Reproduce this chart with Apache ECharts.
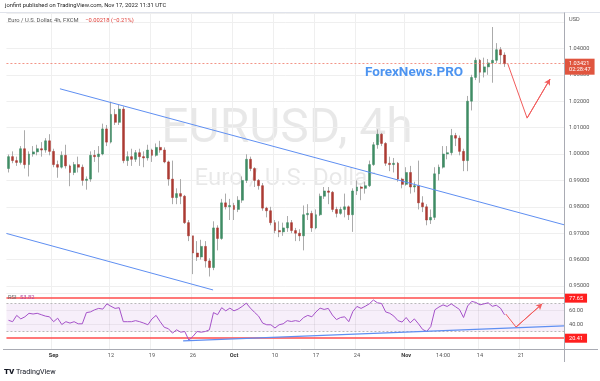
<!DOCTYPE html>
<html><head><meta charset="utf-8">
<script src="https://cdn.jsdelivr.net/npm/echarts@6/dist/echarts.min.js"></script>
<style>html,body{margin:0;padding:0;background:#fff;}#c{width:600px;height:381px;}</style>
</head><body><div id="c"></div>
<script>
// ---------- data ----------
const tradingDays = ['Aug 24','Aug 25','Aug 26','Aug 29','Aug 30','Aug 31',
 'Sep 1','Sep 2','Sep 5','Sep 6','Sep 7','Sep 8','Sep 9','Sep 12','Sep 13','Sep 14','Sep 15','Sep 16','Sep 19','Sep 20','Sep 21','Sep 22','Sep 23','Sep 26','Sep 27','Sep 28','Sep 29','Sep 30',
 'Oct 3','Oct 4','Oct 5','Oct 6','Oct 7','Oct 10','Oct 11','Oct 12','Oct 13','Oct 14','Oct 17','Oct 18','Oct 19','Oct 20','Oct 21','Oct 24','Oct 25','Oct 26','Oct 27','Oct 28','Oct 31',
 'Nov 1','Nov 2','Nov 3','Nov 4','Nov 7','Nov 8','Nov 9','Nov 10','Nov 11','Nov 14','Nov 15','Nov 16','Nov 17','Nov 18','Nov 21','Nov 22','Nov 23','Nov 24','Nov 25','Nov 28'];
const sessions = ['00:00','12:00'];

const opens = [
 0.9945,0.9990,0.9975,0.9968,1.0020,0.9960,1.0000,1.0008,1.0020,1.0015,
 1.0050,1.0010,0.9960,0.9950,0.9995,0.9955,0.9930,0.9960,0.9950,0.9900,
 0.9905,0.9995,0.9990,1.0000,1.0095,1.0045,1.0150,1.0120,1.0170,0.9975,
 0.9990,0.9980,1.0005,0.9990,0.9985,1.0015,0.9995,1.0025,1.0015,0.9970,
 0.9905,0.9835,0.9850,0.9840,0.9740,0.9690,0.9625,0.9610,0.9650,0.9595,
 0.9570,0.9720,0.9680,0.9815,0.9800,0.9805,0.9790,0.9825,0.9900,0.9980,
 0.9945,0.9900,0.9880,0.9795,0.9785,0.9740,0.9710,0.9705,0.9720,0.9740,
 0.9710,0.9700,0.9690,0.9770,0.9775,0.9720,0.9770,0.9840,0.9860,0.9855,
 0.9790,0.9775,0.9790,0.9800,0.9770,0.9860,0.9875,0.9870,0.9880,0.9960,
 1.0035,1.0075,1.0040,0.9965,0.9960,0.9965,0.9905,0.9885,0.9930,0.9875,
 0.9880,0.9815,0.9800,0.9750,0.9760,0.9925,0.9950,1.0000,1.0005,1.0070,
 1.0060,1.0010,0.9975,1.0200,1.0290,1.0355,1.0310,1.0330,1.0345,1.0355,
 1.0395,1.0375];
const closes = [
 0.9990,0.9975,0.9968,1.0020,0.9960,1.0000,1.0008,1.0020,1.0015,1.0050,
 1.0010,0.9960,0.9950,0.9995,0.9955,0.9930,0.9960,0.9950,0.9900,0.9905,
 0.9995,0.9990,1.0000,1.0095,1.0045,1.0150,1.0120,1.0170,0.9975,0.9990,
 0.9980,1.0005,0.9990,0.9985,1.0015,0.9995,1.0025,1.0015,0.9970,0.9905,
 0.9835,0.9850,0.9840,0.9740,0.9690,0.9625,0.9610,0.9650,0.9595,0.9570,
 0.9720,0.9680,0.9815,0.9800,0.9805,0.9790,0.9825,0.9900,0.9980,0.9945,
 0.9900,0.9880,0.9795,0.9785,0.9740,0.9710,0.9705,0.9720,0.9740,0.9710,
 0.9700,0.9690,0.9770,0.9775,0.9720,0.9770,0.9840,0.9860,0.9855,0.9790,
 0.9775,0.9790,0.9800,0.9770,0.9860,0.9875,0.9870,0.9880,0.9960,1.0035,
 1.0075,1.0040,0.9965,0.9960,0.9965,0.9905,0.9885,0.9930,0.9875,0.9880,
 0.9815,0.9800,0.9750,0.9760,0.9925,0.9950,1.0000,1.0005,1.0070,1.0060,
 1.0010,0.9975,1.0200,1.0290,1.0355,1.0310,1.0330,1.0345,1.0355,1.0395,
 1.0375,1.0342];
const lows = [
 0.9930,0.9965,0.9955,0.9960,0.9945,0.9915,0.9990,0.9995,0.9990,1.0005,
 0.9995,0.9950,0.9910,0.9945,0.9945,0.9878,0.9920,0.9930,0.9880,0.9865,
 0.9895,0.9970,0.9930,0.9995,1.0030,1.0040,1.0110,1.0110,0.9965,0.9955,
 0.9955,0.9970,0.9955,0.9950,0.9975,0.9970,0.9990,1.0005,0.9965,0.9880,
 0.9810,0.9810,0.9810,0.9735,0.9670,0.9545,0.9595,0.9600,0.9570,0.9536,
 0.9560,0.9635,0.9675,0.9790,0.9750,0.9750,0.9780,0.9815,0.9890,0.9935,
 0.9875,0.9865,0.9785,0.9760,0.9730,0.9700,0.9685,0.9690,0.9705,0.9700,
 0.9670,0.9670,0.9635,0.9750,0.9705,0.9715,0.9765,0.9830,0.9810,0.9780,
 0.9760,0.9770,0.9760,0.9750,0.9705,0.9845,0.9825,0.9850,0.9875,0.9955,
 1.0020,1.0030,0.9955,0.9935,0.9930,0.9895,0.9870,0.9880,0.9850,0.9855,
 0.9790,0.9780,0.9730,0.9735,0.9750,0.9900,0.9945,0.9980,0.9995,1.0030,
 0.9995,0.9935,0.9935,1.0165,1.0280,1.0270,1.0290,1.0300,1.0270,1.0345,
 1.0340,1.0330];
const highs = [
 0.9998,1.0010,0.9990,1.0030,1.0090,1.0010,1.0030,1.0035,1.0045,1.0060,
 1.0075,1.0020,0.9975,1.0010,1.0035,0.9960,0.9970,0.9990,0.9960,0.9915,
 1.0010,1.0015,1.0030,1.0115,1.0110,1.0198,1.0170,1.0187,1.0180,1.0010,
 1.0020,1.0015,1.0020,1.0010,1.0035,1.0020,1.0040,1.0050,1.0025,0.9975,
 0.9975,0.9870,0.9905,0.9845,0.9750,0.9690,0.9670,0.9675,0.9670,0.9605,
 0.9745,0.9730,0.9830,0.9850,0.9830,0.9815,0.9840,0.9915,0.9999,0.9990,
 0.9950,0.9905,0.9890,0.9800,0.9800,0.9750,0.9745,0.9740,0.9765,0.9750,
 0.9720,0.9715,0.9805,0.9810,0.9785,0.9790,0.9850,0.9875,0.9875,0.9860,
 0.9800,0.9800,0.9850,0.9805,0.9870,0.9900,0.9880,0.9895,0.9975,1.0045,
 1.0093,1.0080,1.0045,0.9990,0.9985,0.9970,0.9910,0.9950,0.9955,0.9895,
 0.9975,0.9840,0.9810,0.9790,0.9950,0.9960,1.0030,1.0030,1.0095,1.0080,
 1.0070,1.0020,1.0220,1.0300,1.0365,1.0360,1.0365,1.0360,1.0481,1.0420,
 1.0405,1.0385];
const rsiValues = [
 46,44,53,48,51,56,55,56,54,52,51,44,49,40,44,42,44,41,41,57,58,61,63,62,69.5,
 66,63,64,44,44,44,45.5,44,42,39.6,48,53,44,36,34,27.7,32.4,29,30,17.5,23,30,29,30,32.4,
 57,54,64,59.5,63.4,59.5,62,65.8,70.5,63.4,57.5,52,42,39.6,39.6,35,39.6,41,45.5,44.3,45.5,44.3,
 50,53,51,58,63.4,61.5,63,53.5,47,50,51,44,58.6,65.8,63,66,69.5,75,71,70,58,56,52,45.5,43.5,
 50,42.5,48,41,33,30,37,61,65,68,65.8,69.5,65.5,61.5,50,66.5,73,71.5,68.1,69.5,71,66,67.5,63.4,53.82];

const priceTicks = [0.95,0.96,0.97,0.98,0.99,1.00,1.01,1.02,1.03,1.04];
const rsiTicks = [40, 60];
const rsiBand = [30, 70];
const rsiLevels = [77.65, 20.41];
const lastPrice = 1.03421;
const countdown = '02:28:47';
const lastRsi = 53.82;
const timeLabels = [['Sep 1 00:00','Sep'],['Sep 12 00:00','12'],['Sep 19 00:00','19'],['Sep 26 00:00','26'],
 ['Oct 3 00:00','Oct'],['Oct 10 00:00','10'],['Oct 17 00:00','17'],['Oct 24 00:00','24'],
 ['Nov 1 00:00','Nov'],['Nov 7 12:00','14:00'],['Nov 14 00:00','14'],['Nov 21 00:00','21']];
const monthNames = ['Sep','Oct','Nov'];
// drawings: [slot index, value]
const upperChannel = [[12.55, 1.0247],[135.5, 0.9732]];
const lowerChannel = [[-0.5, 0.9699],[49.9, 0.9485]];
const priceProjection = [[121.8, 1.0341],[126.5, 1.0136],[132.1, 1.0284]];
const rsiSupport = [[42.6, 16.7],[135.5, 38.1]];
const rsiProjection = [[121.3, 55],[123.8, 36.3],[130.2, 69.6]];

// ---------- build ----------
const categories = tradingDays.flatMap(d => sessions.map(s => d + ' ' + s)).slice(1, 137);
const nCat = categories.length;
const labelMap = Object.fromEntries(timeLabels);
const wickData = opens.map((o,i) => [o, closes[i], lows[i], highs[i]]);
const bodyData = opens.map((o,i) => [o, closes[i], Math.min(o,closes[i]), Math.max(o,closes[i])]);
const UP = '#3f8c64', DOWN = '#ab3a33', WICK = '#ababab';
const FONT = 'Roboto, sans-serif';
const gridLineColor = '#efefef';
const isGridDay = (i, v) => (v in labelMap) && labelMap[v].indexOf(':') < 0;

const chart = echarts.init(document.getElementById('c'), null, {renderer:'canvas'});
const blue = '#5f8ff2', red = '#f25c5c';

chart.setOption({
  animation: false,
  backgroundColor: '#ffffff',
  textStyle: {fontFamily: FONT},
  grid: [
    {left: 6.45, right: 36, top: 13, height: 280},
    {left: 6.45, right: 36, top: 293, height: 56}
  ],
  xAxis: [
    {type:'category', gridIndex:0, data:categories, boundaryGap:true,
     axisLine:{show:false}, axisTick:{show:false}, axisLabel:{show:false},
     splitLine:{show:true, interval:isGridDay, lineStyle:{color:gridLineColor, width:1}}},
    {type:'category', gridIndex:1, data:categories, boundaryGap:true,
     axisLine:{show:false}, axisTick:{show:false},
     axisLabel:{show:true, interval:(i,v)=>v in labelMap, margin:4, fontSize:5.6, color:'#555', fontFamily:FONT,
       formatter:v => monthNames.includes(labelMap[v]) ? '{b|'+labelMap[v]+'}' : labelMap[v],
       rich:{b:{fontWeight:'bold', fontSize:5.6, color:'#333', fontFamily:FONT}}},
     splitLine:{show:true, interval:isGridDay, lineStyle:{color:gridLineColor, width:1}}},
    {type:'value', gridIndex:0, min:-0.5, max:nCat-0.5, show:false},
    {type:'value', gridIndex:1, min:-0.5, max:nCat-0.5, show:false}
  ],
  yAxis: [
    {type:'value', gridIndex:0, position:'right', min:0.94735, max:1.05341, minInterval:0.01, maxInterval:0.01, splitNumber:10,
     axisLine:{show:false}, axisTick:{show:false},
     axisLabel:{margin:5, fontSize:5.6, color:'#555', fontFamily:FONT,
       formatter:v => { const r = Math.round(v*100)/100; return (Math.abs(v-r)<1e-7 && priceTicks.some(t=>Math.abs(t-r)<1e-7)) ? v.toFixed(5) : ''; }},
     splitLine:{show:true, lineStyle:{color:gridLineColor, width:1}}},
    {type:'value', gridIndex:1, position:'right', min:5, max:85, minInterval:10, maxInterval:10,
     axisLine:{show:false}, axisTick:{show:false},
     axisLabel:{margin:5, fontSize:5.6, color:'#555', fontFamily:FONT,
       formatter:v => rsiTicks.some(t=>Math.abs(t-v)<1e-7) ? v.toFixed(2) : ''},
     splitLine:{show:false}}
  ],
  series: [
    {type:'candlestick', name:'wick', xAxisIndex:0, yAxisIndex:0, data:wickData, barWidth:1, silent:true,
     itemStyle:{color:WICK, color0:WICK, borderColor:WICK, borderColor0:WICK, borderWidth:1}, z:2},
    {type:'candlestick', name:'body', xAxisIndex:0, yAxisIndex:0, data:bodyData, barWidth:2.4, silent:true,
     itemStyle:{color:UP, color0:DOWN, borderColor:UP, borderColor0:DOWN, borderWidth:0.5}, z:3},
    {type:'line', xAxisIndex:2, yAxisIndex:0, data:upperChannel, showSymbol:false, silent:true, z:4,
     lineStyle:{color:blue, width:1},
     markLine:{silent:true, symbol:'none', animation:false, precision:5,
       data:[{yAxis:lastPrice, lineStyle:{color:'#f07868', type:[2,2], width:0.8},
         label:{show:true, position:'end', distance:1, formatter:lastPrice.toFixed(5)+'\n'+countdown,
           color:'#fff', backgroundColor:'#e0553f', padding:[2,4,1,4], fontSize:5.6, lineHeight:6.5, fontFamily:FONT, offset:[0,3]}}]}},
    {type:'line', xAxisIndex:2, yAxisIndex:0, data:lowerChannel, showSymbol:false, silent:true, z:4,
     lineStyle:{color:blue, width:1}},
    {type:'line', xAxisIndex:2, yAxisIndex:0, data:priceProjection, showSymbol:false, silent:true, z:4,
     lineStyle:{color:red, width:1},
     markLine:{silent:true, animation:false, precision:5, symbol:['none','arrow'], symbolSize:[5,6], label:{show:false},
       lineStyle:{color:red, width:1, type:'solid'},
       data:[[{coord:priceProjection[1]},{coord:priceProjection[2]}]]}},
    {type:'line', name:'RSI', xAxisIndex:1, yAxisIndex:1, data:rsiValues, showSymbol:false, silent:true, z:5,
     lineStyle:{color:'#a552c9', width:1},
     markArea:{silent:true, itemStyle:{color:'rgba(165,82,201,0.09)'}, data:[[{yAxis:rsiBand[0]},{yAxis:rsiBand[1]}]]},
     markLine:{silent:true, symbol:'none', animation:false, precision:2, data:[
       {yAxis:rsiBand[1], lineStyle:{type:[2,2], color:'#b9b9b9', width:1}, label:{show:false}},
       {yAxis:rsiBand[0], lineStyle:{type:[2,2], color:'#b9b9b9', width:1}, label:{show:false}},
       {yAxis:rsiTicks[1], lineStyle:{type:'solid', color:'rgba(0,0,0,0.05)', width:1}, label:{show:false}},
       {yAxis:rsiTicks[0], lineStyle:{type:'solid', color:'rgba(0,0,0,0.05)', width:1}, label:{show:false}},
       ...rsiLevels.map(v => ({yAxis:v, lineStyle:{type:'solid', color:'#ff4d4d', width:1.5},
         label:{show:true, position:'end', distance:1, formatter:v.toFixed(2), color:'#fff', backgroundColor:'#ff1f1f',
           padding:[2,4,1,4], fontSize:5.6, fontFamily:FONT}}))
     ]}},
    {type:'line', xAxisIndex:3, yAxisIndex:1, data:rsiSupport, showSymbol:false, silent:true, z:6,
     lineStyle:{color:blue, width:1.3}},
    {type:'line', xAxisIndex:3, yAxisIndex:1, data:rsiProjection, showSymbol:false, silent:true, z:6,
     lineStyle:{color:red, width:1},
     markLine:{silent:true, animation:false, precision:3, symbol:['none','arrow'], symbolSize:[5,6], label:{show:false},
       lineStyle:{color:red, width:1, type:'solid'},
       data:[[{coord:rsiProjection[1]},{coord:rsiProjection[2]}]]}}
  ],
  graphic: [
    {type:'text', x:287, y:130, z:0, silent:true, style:{text:'EURUSD, 4h', font:'48px '+FONT, fill:'rgba(0,0,0,0.09)', textAlign:'center', textVerticalAlign:'middle'}},
    {type:'text', x:285, y:179, z:0, silent:true, style:{text:'Euro / U.S. Dollar', font:'24px '+FONT, fill:'rgba(0,0,0,0.09)', textAlign:'center', textVerticalAlign:'middle'}},
    {type:'line', silent:true, z:1, shape:{x1:0, y1:12.5, x2:600, y2:12.5}, style:{stroke:'#e0e3eb', lineWidth:1}},
    {type:'line', silent:true, z:1, shape:{x1:3, y1:349.5, x2:598, y2:349.5}, style:{stroke:'#a9abb3', lineWidth:1}},
    {type:'line', silent:true, z:1, shape:{x1:564.5, y1:12.5, x2:564.5, y2:362}, style:{stroke:'#a9abb3', lineWidth:1}},
    {type:'text', x:5, y:6, z:10, silent:true, style:{text:'jonfint published on TradingView.com, Nov 17, 2022 11:31 UTC', font:'5.8px '+FONT, fill:'#222', textVerticalAlign:'middle'}},
    {type:'text', x:8, y:21, z:10, silent:true, style:{text:'{a|Euro / U.S. Dollar, 4h, FXCM}  {r|\u22120.00218 (\u22120.21%)}', textVerticalAlign:'middle',
      rich:{a:{fontSize:5.8, fill:'#555', fontFamily:FONT}, r:{fontSize:5.8, fill:'#e0403a', fontFamily:FONT}}}},
    {type:'text', x:569, y:20, z:10, silent:true, style:{text:'USD', font:'5.6px '+FONT, fill:'#555', textVerticalAlign:'middle'}},
    {type:'text', x:365, y:73, z:10, silent:true, style:{text:'ForexNews.PRO', font:'bold 13.5px '+FONT, fill:'#4d94f0', textVerticalAlign:'middle'}},
    {type:'text', x:8, y:298, z:10, silent:true, style:{text:'{a|RSI} {r|'+lastRsi.toFixed(2)+'}', textVerticalAlign:'middle',
      rich:{a:{fontSize:5.8, fill:'#666', fontFamily:FONT}, r:{fontSize:5.8, fill:'#b0479f', fontFamily:FONT}}}},
    {type:'text', x:4, y:372, z:10, silent:true, style:{text:'TV', font:'900 8px '+FONT, fill:'#131722', textVerticalAlign:'middle'}},
    {type:'text', x:16, y:372, z:10, silent:true, style:{text:'TradingView', font:'7.2px '+FONT, fill:'#131722', textVerticalAlign:'middle'}}
  ]
});
</script>
</body></html>
